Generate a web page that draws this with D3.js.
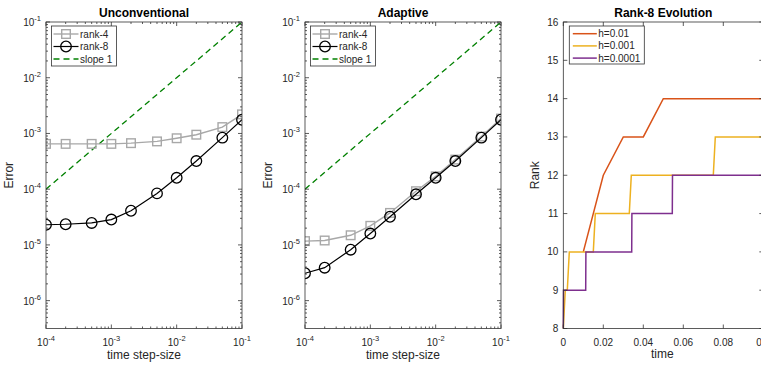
<!DOCTYPE html>
<html>
<head>
<meta charset="utf-8">
<script src="https://cdn.jsdelivr.net/npm/d3@7"></script>
<style>
  body { margin: 0; background: #fff; }
  svg { font-family: "Liberation Sans", Arial, Helvetica, sans-serif; }
</style>
</head>
<body>
<svg id="chart" width="761" height="365"></svg>
<script>
// ---- data ----
const stepSizes   = [1e-4, 2e-4, 5e-4, 1e-3, 2e-3, 5e-3, 1e-2, 2e-2, 5e-2, 1e-1];
const unconvRank4 = [6.5e-4, 6.5e-4, 6.5e-4, 6.5e-4, 6.7e-4, 7.2e-4, 8.2e-4, 9.5e-4, 1.3e-3, 2.2e-3];
const unconvRank8 = [2.3e-5, 2.35e-5, 2.48e-5, 2.85e-5, 4.1e-5, 8.4e-5, 1.6e-4, 3.2e-4, 8.4e-4, 1.76e-3];
const adaptRank4  = [1.17e-5, 1.2e-5, 1.49e-5, 2.2e-5, 3.75e-5, 9.2e-5, 1.7e-4, 3.4e-4, 8.8e-4, 1.85e-3];
const adaptRank8  = [3.1e-6, 3.9e-6, 8.2e-6, 1.6e-5, 3.2e-5, 8.1e-5, 1.6e-4, 3.2e-4, 8.4e-4, 1.76e-3];
const slopeX      = [1e-4, 1e-1];
const slopeY      = [1e-4, 1e-1];

// rank evolution (breakpoints of each curve)
const h1Time  = [0.01, 0.02, 0.03, 0.04, 0.05, 0.1];
const h1Rank  = [10, 12, 13, 13, 14, 14];
const h2Time  = [0, 0.001, 0.002, 0.003, 0.015, 0.016, 0.033, 0.034, 0.075, 0.076, 0.1];
const h2Rank  = [8, 9, 9, 10, 10, 11, 11, 12, 12, 13, 13];
const h3Time  = [0, 0.0001, 0.0112, 0.0113, 0.0342, 0.0343, 0.0545, 0.0546, 0.1];
const h3Rank  = [8, 9, 9, 10, 10, 11, 11, 12, 12];

const logXTicks = [1e-4, 1e-3, 1e-2, 1e-1];
const logYTicks = [1e-6, 1e-5, 1e-4, 1e-3, 1e-2, 1e-1];
const timeTicks = [0, 0.02, 0.04, 0.06, 0.08, 0.1];
const timeLabels = ["0", "0.02", "0.04", "0.06", "0.08", "0.1"];
const rankTicks = [8, 9, 10, 11, 12, 13, 14, 15, 16];

const svg = d3.select("#chart");
const axisColor = "#333";
const textColor = "#262626";
const yTop = 22, yBot = 328.5;

function minorLog(lo, hi) {
  const out = [];
  for (let e = Math.floor(Math.log10(lo)); e < Math.ceil(Math.log10(hi)); e++) {
    for (let m = 2; m <= 9; m++) {
      const v = m * Math.pow(10, e);
      if (v > lo && v < hi) out.push(v);
    }
  }
  return out;
}

// box frame with inward ticks on all four sides
function frameTicks(g, x, y, xMajor, xMinor, yMajor, yMinor) {
  const [x0, x1] = x.range();
  const tg = g.append("g").attr("stroke", axisColor).attr("stroke-width", 0.8);
  const tick = (vals, len, horiz) => {
    vals.forEach(v => {
      if (horiz) {
        const px = x(v);
        tg.append("line").attr("x1", px).attr("x2", px).attr("y1", yBot).attr("y2", yBot - len);
        tg.append("line").attr("x1", px).attr("x2", px).attr("y1", yTop).attr("y2", yTop + len);
      } else {
        const py = y(v);
        tg.append("line").attr("x1", x0).attr("x2", x0 + len).attr("y1", py).attr("y2", py);
        tg.append("line").attr("x1", x1).attr("x2", x1 - len).attr("y1", py).attr("y2", py);
      }
    });
  };
  tick(xMajor, 4, true);
  tick(xMinor, 2, true);
  tick(yMajor, 4, false);
  tick(yMinor, 2, false);
  g.append("rect")
    .attr("x", x0).attr("y", yTop)
    .attr("width", x1 - x0).attr("height", yBot - yTop)
    .attr("fill", "none").attr("stroke", axisColor).attr("stroke-width", 0.8);
}

function powLabel(t, v) {
  t.append("tspan").text("10");
  t.append("tspan").attr("dy", -5).attr("font-size", 7.5).text(String(Math.round(Math.log10(v))));
}

function drawLogPanel(cfg) {
  const g = svg.append("g");
  const x = d3.scaleLog().domain([1e-4, 1e-1]).range([cfg.x0, cfg.x1]);
  const y = d3.scaleLog().domain([Math.pow(10, -6.5), 1e-1]).range([yBot, yTop]);

  const clip = "clip" + cfg.id;
  svg.append("clipPath").attr("id", clip).append("rect")
    .attr("x", cfg.x0).attr("y", yTop).attr("width", cfg.x1 - cfg.x0).attr("height", yBot - yTop);
  const plot = g.append("g").attr("clip-path", `url(#${clip})`);

  const line = d3.line().x(d => x(d[0])).y(d => y(d[1]));

  // slope-1 reference
  plot.append("path").datum(d3.zip(slopeX, slopeY)).attr("d", line)
    .attr("fill", "none").attr("stroke", "#008000").attr("stroke-width", 1.3)
    .attr("stroke-dasharray", "6,4");

  // rank-4
  const r4 = d3.zip(stepSizes, cfg.rank4);
  plot.append("path").datum(r4).attr("d", line)
    .attr("fill", "none").attr("stroke", "#a8a8a8").attr("stroke-width", 1.4);
  plot.selectAll(".sq").data(r4).enter().append("rect")
    .attr("x", d => x(d[0]) - 4.3).attr("y", d => y(d[1]) - 4.3)
    .attr("width", 8.6).attr("height", 8.6)
    .attr("fill", "none").attr("stroke", "#a8a8a8").attr("stroke-width", 1.4);

  // rank-8
  const r8 = d3.zip(stepSizes, cfg.rank8);
  plot.append("path").datum(r8).attr("d", line)
    .attr("fill", "none").attr("stroke", "#000").attr("stroke-width", 1.2);
  plot.selectAll(".ci").data(r8).enter().append("circle")
    .attr("cx", d => x(d[0])).attr("cy", d => y(d[1])).attr("r", 5.3)
    .attr("fill", "none").attr("stroke", "#000").attr("stroke-width", 1.3);

  frameTicks(g, x, y, logXTicks, minorLog(1e-4, 1e-1), logYTicks, minorLog(Math.pow(10, -6.5), 1e-1));

  // tick labels
  logXTicks.forEach(v => {
    const t = g.append("text").attr("x", x(v)).attr("y", 346).attr("text-anchor", "middle")
      .attr("font-size", 10).attr("fill", textColor);
    powLabel(t, v);
  });
  logYTicks.forEach(v => {
    const t = g.append("text").attr("x", cfg.x0 - 5).attr("y", y(v) + 4).attr("text-anchor", "end")
      .attr("font-size", 10).attr("fill", textColor);
    powLabel(t, v);
  });

  const cx = (cfg.x0 + cfg.x1) / 2;
  g.append("text").attr("x", cx).attr("y", 17).attr("text-anchor", "middle")
    .attr("font-size", 12).attr("font-weight", "bold").attr("fill", "#000").text(cfg.title);
  g.append("text").attr("x", cx).attr("y", 359).attr("text-anchor", "middle")
    .attr("font-size", 12).attr("fill", textColor).text("time step-size");
  g.append("text").attr("transform", `translate(${cfg.x0 - 33},${(yTop + yBot) / 2}) rotate(-90)`)
    .attr("text-anchor", "middle").attr("font-size", 12).attr("fill", textColor).text("Error");

  // legend
  const lx = cfg.legendX, ly = 26;
  const lg = g.append("g");
  lg.append("rect").attr("x", lx).attr("y", ly).attr("width", 65).attr("height", 40)
    .attr("fill", "#fff").attr("stroke", axisColor).attr("stroke-width", 0.8);
  const rows = [
    { name: "rank-4", color: "#a8a8a8", w: 1.4, marker: "sq" },
    { name: "rank-8", color: "#000", w: 1.2, marker: "ci" },
    { name: "slope 1", color: "#008000", w: 1.3, marker: null, dash: "6,4" }
  ];
  rows.forEach((r, i) => {
    const yy = ly + 8 + i * 12.5;
    lg.append("line").attr("x1", lx + 2).attr("x2", lx + 27).attr("y1", yy).attr("y2", yy)
      .attr("stroke", r.color).attr("stroke-width", r.w).attr("stroke-dasharray", r.dash || null);
    if (r.marker === "sq") {
      lg.append("rect").attr("x", lx + 14.5 - 4.3).attr("y", yy - 4.3).attr("width", 8.6).attr("height", 8.6)
        .attr("fill", "none").attr("stroke", r.color).attr("stroke-width", 1.4);
    } else if (r.marker === "ci") {
      lg.append("circle").attr("cx", lx + 14.5).attr("cy", yy).attr("r", 5.3)
        .attr("fill", "none").attr("stroke", r.color).attr("stroke-width", 1.3);
    }
    lg.append("text").attr("x", lx + 28.5).attr("y", yy + 3.5).attr("font-size", 10)
      .attr("fill", textColor).text(r.name);
  });
}

drawLogPanel({ id: 1, x0: 46, x1: 242, title: "Unconventional", rank4: unconvRank4, rank8: unconvRank8, legendX: 51.5 });
drawLogPanel({ id: 2, x0: 305, x1: 501, title: "Adaptive", rank4: adaptRank4, rank8: adaptRank8, legendX: 310.5 });

// ---- rank evolution panel ----
(function () {
  const x0 = 563.3, x1 = 763.3;
  const g = svg.append("g");
  const x = d3.scaleLinear().domain([0, 0.1]).range([x0, x1]);
  const y = d3.scaleLinear().domain([8, 16]).range([yBot, yTop]);
  const line = d3.line().x(d => x(d[0])).y(d => y(d[1]));

  const series = [
    { name: "h=0.01", t: h1Time, r: h1Rank, color: "#D95319" },
    { name: "h=0.001", t: h2Time, r: h2Rank, color: "#EDB120" },
    { name: "h=0.0001", t: h3Time, r: h3Rank, color: "#7E2F8E" }
  ];
  series.forEach(s => {
    g.append("path").datum(d3.zip(s.t, s.r)).attr("d", line)
      .attr("fill", "none").attr("stroke", s.color).attr("stroke-width", 1.5);
  });

  frameTicks(g, x, y, timeTicks, [], rankTicks, []);

  timeTicks.forEach((v, i) => {
    g.append("text").attr("x", x(v)).attr("y", 346).attr("text-anchor", "middle")
      .attr("font-size", 10).attr("fill", textColor).text(timeLabels[i]);
  });
  rankTicks.forEach(v => {
    g.append("text").attr("x", x0 - 5).attr("y", y(v) + 3.5).attr("text-anchor", "end")
      .attr("font-size", 10).attr("fill", textColor).text(v);
  });

  g.append("text").attr("x", (x0 + x1) / 2).attr("y", 17).attr("text-anchor", "middle")
    .attr("font-size", 12).attr("font-weight", "bold").attr("fill", "#000").text("Rank-8 Evolution");
  g.append("text").attr("x", (x0 + x1) / 2 - 1).attr("y", 358).attr("text-anchor", "middle")
    .attr("font-size", 12).attr("fill", textColor).text("time");
  g.append("text").attr("transform", `translate(${x0 - 24},${(yTop + yBot) / 2}) rotate(-90)`)
    .attr("text-anchor", "middle").attr("font-size", 12).attr("fill", textColor).text("Rank");

  const lx = 569.3, ly = 26;
  g.append("rect").attr("x", lx).attr("y", ly).attr("width", 75).attr("height", 38)
    .attr("fill", "#fff").attr("stroke", axisColor).attr("stroke-width", 0.8);
  series.forEach((s, i) => {
    const yy = ly + 7.7 + i * 12.2;
    g.append("line").attr("x1", lx + 3.5).attr("x2", lx + 27.5).attr("y1", yy).attr("y2", yy)
      .attr("stroke", s.color).attr("stroke-width", 1.5);
    g.append("text").attr("x", lx + 29).attr("y", yy + 3.5).attr("font-size", 10)
      .attr("fill", textColor).text(s.name);
  });
})();
</script>
</body>
</html>
